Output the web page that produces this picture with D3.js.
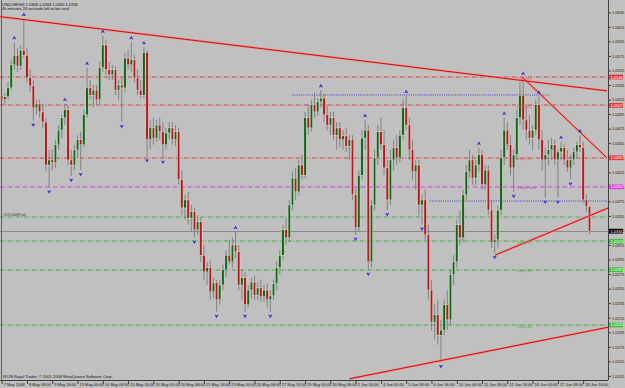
<!DOCTYPE html>
<html>
<head>
<meta charset="utf-8">
<script src="https://cdn.jsdelivr.net/npm/d3@7"></script>
<style>
  html, body { margin: 0; padding: 0; background: #c0c0c0; }
  svg { display: block; font-family: "Liberation Sans", "DejaVu Sans", sans-serif; }
</style>
</head>
<body>
<svg id="chart" width="625" height="388"></svg>
<script>
// USDCHF H4, 7 May 2008 00:00 .. 19 Jun 2008 00:00
const tickLabels = ["7 May 2008", "8 May 08:00", "9 May 16:00", "13 May 00:00", "14 May 08:00", "15 May 16:00",
    "19 May 00:00", "20 May 08:00", "21 May 16:00", "23 May 00:00", "26 May 08:00", "27 May 16:00",
    "29 May 00:00", "30 May 08:00", "2 Jun 16:00", "4 Jun 00:00", "5 Jun 08:00", "6 Jun 16:00",
    "10 Jun 00:00", "11 Jun 08:00", "12 Jun 16:00", "16 Jun 00:00", "17 Jun 08:00", "18 Jun 16:00"];

const priceTicks = [1.0635, 1.0615, 1.0595, 1.0575, 1.0555, 1.0535, 1.0515, 1.0495, 1.0475, 1.0455,
    1.0435, 1.0415, 1.0395, 1.0375, 1.0355, 1.0335, 1.0315, 1.0295, 1.0275, 1.0255,
    1.0235, 1.0215, 1.0195, 1.0175, 1.0155, 1.0135];

// open, high, low, close
const candles = [
    [1.0521,1.0531,1.0508,1.0515],[1.0515,1.0524,1.0508,1.0519],[1.0519,1.0539,1.0515,1.0531],[1.0531,1.0570,1.0528,1.0563],
    [1.0563,1.0594,1.0556,1.0576],[1.0576,1.0586,1.0553,1.0561],[1.0561,1.0590,1.0556,1.0583],[1.0583,1.0626,1.0572,1.0576],
    [1.0576,1.0586,1.0539,1.0545],[1.0545,1.0556,1.0525,1.0534],[1.0534,1.0542,1.0486,1.0504],[1.0504,1.0515,1.0494,1.0509],
    [1.0509,1.0515,1.0490,1.0498],[1.0498,1.0508,1.0476,1.0484],[1.0484,1.0490,1.0416,1.0425],[1.0425,1.0446,1.0394,1.0432],
    [1.0432,1.0446,1.0418,1.0428],[1.0428,1.0460,1.0421,1.0453],[1.0453,1.0480,1.0446,1.0473],[1.0473,1.0494,1.0462,1.0490],
    [1.0490,1.0509,1.0480,1.0501],[1.0501,1.0506,1.0425,1.0432],[1.0432,1.0446,1.0410,1.0425],[1.0425,1.0453,1.0418,1.0446],
    [1.0446,1.0466,1.0435,1.0460],[1.0460,1.0471,1.0418,1.0453],[1.0453,1.0501,1.0449,1.0494],[1.0494,1.0559,1.0490,1.0531],
    [1.0531,1.0542,1.0515,1.0521],[1.0521,1.0535,1.0504,1.0528],[1.0528,1.0535,1.0508,1.0515],[1.0515,1.0567,1.0508,1.0559],
    [1.0559,1.0603,1.0553,1.0590],[1.0590,1.0597,1.0549,1.0556],[1.0556,1.0567,1.0542,1.0549],[1.0549,1.0563,1.0542,1.0556],
    [1.0556,1.0561,1.0521,1.0528],[1.0528,1.0542,1.0515,1.0535],[1.0535,1.0545,1.0484,1.0531],[1.0531,1.0580,1.0525,1.0572],
    [1.0572,1.0583,1.0556,1.0563],[1.0563,1.0594,1.0553,1.0570],[1.0570,1.0576,1.0539,1.0545],[1.0545,1.0556,1.0521,1.0528],
    [1.0528,1.0542,1.0517,1.0521],[1.0521,1.0587,1.0517,1.0580],[1.0580,1.0583,1.0437,1.0460],[1.0460,1.0487,1.0446,1.0476],
    [1.0476,1.0490,1.0453,1.0462],[1.0462,1.0487,1.0457,1.0480],[1.0480,1.0490,1.0460,1.0471],[1.0471,1.0484,1.0435,1.0453],
    [1.0453,1.0476,1.0446,1.0469],[1.0469,1.0484,1.0460,1.0476],[1.0476,1.0484,1.0453,1.0460],[1.0460,1.0480,1.0451,1.0471],
    [1.0471,1.0476,1.0398,1.0405],[1.0405,1.0418,1.0356,1.0366],[1.0366,1.0384,1.0350,1.0377],[1.0377,1.0388,1.0343,1.0352],
    [1.0352,1.0370,1.0333,1.0361],[1.0361,1.0366,1.0325,1.0336],[1.0336,1.0356,1.0329,1.0347],[1.0347,1.0352,1.0292,1.0301],
    [1.0301,1.0315,1.0267,1.0278],[1.0278,1.0292,1.0260,1.0284],[1.0284,1.0295,1.0240,1.0251],[1.0251,1.0270,1.0242,1.0263],
    [1.0263,1.0267,1.0223,1.0240],[1.0240,1.0267,1.0233,1.0260],[1.0260,1.0288,1.0253,1.0281],[1.0281,1.0308,1.0270,1.0301],
    [1.0301,1.0322,1.0288,1.0292],[1.0292,1.0325,1.0284,1.0315],[1.0315,1.0333,1.0297,1.0306],[1.0306,1.0315,1.0253,1.0260],
    [1.0260,1.0281,1.0240,1.0270],[1.0270,1.0278,1.0223,1.0233],[1.0233,1.0260,1.0229,1.0253],[1.0253,1.0270,1.0242,1.0264],
    [1.0264,1.0273,1.0240,1.0246],[1.0246,1.0264,1.0240,1.0256],[1.0256,1.0267,1.0237,1.0244],[1.0244,1.0260,1.0237,1.0253],
    [1.0253,1.0262,1.0229,1.0240],[1.0240,1.0253,1.0223,1.0245],[1.0245,1.0267,1.0240,1.0262],[1.0262,1.0292,1.0253,1.0284],
    [1.0284,1.0308,1.0274,1.0301],[1.0301,1.0343,1.0295,1.0336],[1.0336,1.0352,1.0315,1.0325],[1.0325,1.0377,1.0319,1.0370],
    [1.0370,1.0416,1.0363,1.0407],[1.0407,1.0421,1.0377,1.0388],[1.0388,1.0432,1.0383,1.0425],[1.0425,1.0439,1.0405,1.0411],
    [1.0411,1.0498,1.0407,1.0490],[1.0490,1.0508,1.0466,1.0476],[1.0476,1.0515,1.0471,1.0508],[1.0508,1.0525,1.0490,1.0498],
    [1.0498,1.0517,1.0493,1.0512],[1.0512,1.0528,1.0504,1.0517],[1.0517,1.0523,1.0484,1.0494],[1.0494,1.0508,1.0473,1.0480],
    [1.0480,1.0498,1.0466,1.0490],[1.0490,1.0498,1.0460,1.0466],[1.0466,1.0484,1.0446,1.0476],[1.0476,1.0484,1.0449,1.0460],
    [1.0460,1.0473,1.0446,1.0465],[1.0465,1.0476,1.0443,1.0451],[1.0451,1.0466,1.0432,1.0460],[1.0460,1.0466,1.0377,1.0384],
    [1.0384,1.0394,1.0329,1.0339],[1.0339,1.0418,1.0333,1.0411],[1.0411,1.0473,1.0405,1.0462],[1.0462,1.0487,1.0446,1.0473],
    [1.0473,1.0480,1.0281,1.0292],[1.0292,1.0377,1.0284,1.0370],[1.0370,1.0446,1.0363,1.0435],[1.0435,1.0480,1.0425,1.0471],
    [1.0471,1.0490,1.0446,1.0453],[1.0453,1.0473,1.0411,1.0421],[1.0421,1.0432,1.0363,1.0377],[1.0377,1.0446,1.0370,1.0432],
    [1.0432,1.0460,1.0418,1.0449],[1.0449,1.0466,1.0425,1.0435],[1.0435,1.0473,1.0429,1.0466],[1.0466,1.0515,1.0460,1.0504],
    [1.0504,1.0520,1.0473,1.0480],[1.0480,1.0490,1.0432,1.0446],[1.0446,1.0460,1.0405,1.0416],[1.0416,1.0432,1.0391,1.0425],
    [1.0425,1.0432,1.0356,1.0370],[1.0370,1.0384,1.0343,1.0377],[1.0377,1.0391,1.0322,1.0329],[1.0329,1.0343,1.0240,1.0253],
    [1.0253,1.0267,1.0198,1.0209],[1.0209,1.0233,1.0185,1.0219],[1.0219,1.0240,1.0178,1.0191],[1.0191,1.0212,1.0154,1.0198],
    [1.0198,1.0240,1.0191,1.0233],[1.0233,1.0253,1.0198,1.0212],[1.0212,1.0281,1.0205,1.0274],[1.0274,1.0301,1.0260,1.0292],
    [1.0292,1.0350,1.0284,1.0343],[1.0343,1.0363,1.0315,1.0325],[1.0325,1.0391,1.0319,1.0384],[1.0384,1.0425,1.0377,1.0416],
    [1.0416,1.0446,1.0407,1.0432],[1.0432,1.0439,1.0398,1.0407],[1.0407,1.0432,1.0398,1.0425],[1.0425,1.0449,1.0416,1.0439],
    [1.0439,1.0446,1.0391,1.0398],[1.0398,1.0425,1.0391,1.0418],[1.0418,1.0425,1.0356,1.0363],[1.0363,1.0377,1.0311,1.0318],
    [1.0318,1.0329,1.0304,1.0322],[1.0322,1.0370,1.0311,1.0363],[1.0363,1.0446,1.0356,1.0435],[1.0435,1.0490,1.0425,1.0473],
    [1.0473,1.0484,1.0446,1.0453],[1.0453,1.0466,1.0411,1.0421],[1.0421,1.0446,1.0388,1.0439],[1.0439,1.0501,1.0432,1.0490],
    [1.0490,1.0539,1.0480,1.0521],[1.0521,1.0545,1.0473,1.0487],[1.0487,1.0508,1.0460,1.0473],[1.0473,1.0494,1.0453,1.0462],
    [1.0462,1.0480,1.0446,1.0473],[1.0473,1.0515,1.0466,1.0508],[1.0508,1.0519,1.0446,1.0460],[1.0460,1.0473,1.0418,1.0432],
    [1.0432,1.0449,1.0380,1.0439],[1.0439,1.0460,1.0425,1.0446],[1.0446,1.0462,1.0432,1.0453],[1.0453,1.0460,1.0425,1.0432],
    [1.0432,1.0446,1.0380,1.0443],[1.0443,1.0457,1.0432,1.0449],[1.0449,1.0453,1.0425,1.0432],[1.0432,1.0446,1.0416,1.0421],
    [1.0421,1.0439,1.0405,1.0432],[1.0432,1.0449,1.0425,1.0443],[1.0443,1.0457,1.0435,1.0453],[1.0453,1.0466,1.0443,1.0449],
    [1.0449,1.0457,1.0373,1.0377],[1.0377,1.0384,1.0361,1.0368],[1.0368,1.0368,1.0330,1.0334]
];

// bars carrying a fractal arrow
const fractalUp = [4, 7, 20, 27, 32, 41, 45, 74, 101, 115, 128, 151, 159, 165, 170, 177, 183];
const fractalDown = [10, 15, 22, 25, 38, 46, 51, 61, 68, 77, 85, 112, 116, 122, 133, 139, 156, 162, 172, 176, 180];

// daily pivot levels
const levelNames = ["Daily R3", "Daily R2", "Daily R1", "Daily Pivot", "Daily S1", "Daily S2", "Daily S3"];
const levelValues = [1.0546, 1.0507, 1.0435, 1.0395, 1.0320, 1.0281, 1.0205];
const levelColors = ["#e03a3a", "#e03a3a", "#e03a3a", "#e040e0", "#3cc23c", "#3cc23c", "#3cc23c"];

// trend lines: [bar1, price1, bar2, price2]
const trendLines = [
    [-0.5, 1.0629, 191.5, 1.0527],
    [164.7, 1.0546, 191.5, 1.0435],
    [110, 1.0131, 192, 1.0202],
    [156.1, 1.0301, 192.5, 1.0367]
];

// dotted lines: [fromBar, toBar, price]
const dottedLines = [[91.9, 173.5, 1.0521], [135.5, 192, 1.0376]];

const lastPrice = 1.0334;
const extraLevel = 1.0354;

const svg = d3.select("#chart");
const plotRight = 608, plotBottom = 380;

const x = d3.scaleLinear().domain([0, 186]).range([1.7, 589.5]);
const y = d3.scaleLinear().domain([1.0135, 1.0635]).range([375.9, 12.3]);

svg.append("rect").attr("width", 625).attr("height", 388).attr("fill", "#c0c0c0");

svg.append("defs").append("clipPath").attr("id", "plotClip")
  .append("rect").attr("x", 0).attr("y", 0).attr("width", plotRight).attr("height", plotBottom);

const plot = svg.append("g").attr("clip-path", "url(#plotClip)");

// horizontal levels, drawn soft over two rows
plot.selectAll("line.level")
  .data(levelValues)
  .enter().append("line")
    .attr("class", "level")
    .attr("x1", 0).attr("x2", plotRight)
    .attr("y1", d => Math.round(y(d))).attr("y2", d => Math.round(y(d)))
    .attr("stroke", (d, i) => i == 3 ? "#e040e0" : i < 3 ? "#e03c3c" : "#3cb43c")
    .attr("stroke-width", 1.2)
    .attr("stroke-dasharray", (d, i) => i == 3 ? "5,2.5" : "4,1.5,1,1.5");

plot.append("line")
    .attr("x1", 0).attr("x2", plotRight)
    .attr("y1", Math.round(y(extraLevel))).attr("y2", Math.round(y(extraLevel)))
    .attr("stroke", "#3cb43c").attr("stroke-width", 1.2).attr("stroke-dasharray", "4,1.5,1,1.5");

plot.append("line")
    .attr("x1", 0).attr("x2", plotRight)
    .attr("y1", Math.round(y(lastPrice)) + 0.5).attr("y2", Math.round(y(lastPrice)) + 0.5)
    .attr("stroke", "#8a8a8a").attr("stroke-width", 1);

plot.selectAll("line.dotted")
  .data(dottedLines)
  .enter().append("line")
    .attr("class", "dotted")
    .attr("x1", d => x(d[0])).attr("x2", d => x(d[1]))
    .attr("y1", d => Math.round(y(d[2]))).attr("y2", d => Math.round(y(d[2])))
    .attr("stroke", "#4040d0").attr("stroke-width", 1.1).attr("stroke-dasharray", "1,1.2");

// candles
const bar = plot.selectAll("g.candle")
  .data(candles)
  .enter().append("g")
    .attr("class", "candle")
    .attr("transform", (d, i) => "translate(" + x(i) + ",0)");

bar.append("line")
    .attr("y1", d => y(d[1])).attr("y2", d => y(d[2]))
    .attr("stroke", "#7c7c7c").attr("stroke-width", 0.9);

bar.append("rect")
    .attr("x", -1.2).attr("width", 2.4)
    .attr("y", d => y(Math.max(d[0], d[3])))
    .attr("height", d => Math.max(0.8, Math.abs(y(d[0]) - y(d[3]))))
    .attr("fill", d => d[3] >= d[0] ? "#136613" : "#b41a1a")
    .attr("stroke", "#ececec").attr("stroke-width", 0.4);

// trend lines
plot.selectAll("line.trend")
  .data(trendLines)
  .enter().append("line")
    .attr("class", "trend")
    .attr("x1", d => x(d[0])).attr("y1", d => y(d[1]))
    .attr("x2", d => x(d[2])).attr("y2", d => y(d[3]))
    .attr("stroke", "#f08a8a").attr("stroke-width", 2.2);
plot.selectAll("line.trendcore")
  .data(trendLines)
  .enter().append("line")
    .attr("class", "trendcore")
    .attr("x1", d => x(d[0])).attr("y1", d => y(d[1]))
    .attr("x2", d => x(d[2])).attr("y2", d => y(d[3]))
    .attr("stroke", "#d01010").attr("stroke-width", 1);

// fractal arrows
const arrowColor = "#3434d8";
plot.selectAll("path.up")
  .data(fractalUp)
  .enter().append("path")
    .attr("class", "up")
    .attr("transform", i => "translate(" + x(i) + "," + (y(candles[i][1]) - 4.5) + ")")
    .attr("d", "M-2,1.6 L0,-1.8 L2,1.6 L0.6,1.6 L0,0.6 L-0.6,1.6 Z")
    .attr("fill", arrowColor);
plot.selectAll("path.down")
  .data(fractalDown)
  .enter().append("path")
    .attr("class", "down")
    .attr("transform", i => "translate(" + x(i) + "," + (y(candles[i][2]) + 4.5) + ")")
    .attr("d", "M-2,-1.6 L0,1.8 L2,-1.6 L0.6,-1.6 L0,-0.6 L-0.6,-1.6 Z")
    .attr("fill", arrowColor);

// level names
plot.selectAll("text.levelName")
  .data(levelValues)
  .enter().append("text")
    .attr("class", "levelName")
    .attr("x", 517).attr("y", d => y(d) + 2.6)
    .attr("font-size", 4)
    .attr("fill", (d, i) => i == 3 ? "#d040d0" : i < 3 ? "#e06060" : "#48b048")
    .text((d, i) => levelNames[i]);

plot.append("text")
    .attr("x", 3).attr("y", y(extraLevel) - 0.5)
    .attr("font-size", 4).attr("fill", "#303030")
    .text("#57c1039 pit");

// axes
const yAxis = d3.axisRight(y).tickValues(priceTicks).tickFormat(d3.format(".4f")).tickSize(2.5);
const yg = svg.append("g").attr("transform", "translate(" + (plotRight + 0.5) + ",0)").call(yAxis);
yg.select(".domain").attr("stroke", "#404040").attr("d", "M0,0V" + plotBottom);
yg.selectAll(".tick line").attr("stroke", "#404040");
yg.selectAll(".tick text").attr("x", 3.5).attr("font-size", 4).attr("fill", "#101010").attr("font-family", null);

const xAxis = d3.axisBottom(x).tickValues(d3.range(tickLabels.length).map(k => k * 8))
    .tickFormat((d, k) => tickLabels[k]).tickSize(3.5);
const xg = svg.append("g").attr("transform", "translate(0," + (plotBottom + 0.5) + ")").call(xAxis);
xg.select(".domain").attr("stroke", "#404040").attr("d", "M0,0H" + plotRight);
xg.selectAll(".tick line").attr("stroke", "#404040");
xg.selectAll(".tick text").attr("text-anchor", "start").attr("x", 1.5).attr("y", 2.2)
    .attr("font-size", 4).attr("fill", "#101010").attr("font-family", null);

svg.append("line").attr("x1", 1.5).attr("x2", 1.5).attr("y1", 0).attr("y2", plotBottom)
    .attr("stroke", "#606060").attr("stroke-width", 1);

// price boxes on the right scale
const boxes = levelValues.map((v, i) => ({v: v, c: levelColors[i], t: "#fff"}))
    .concat([{v: lastPrice, c: "#000", t: "#fff"}]);
const box = svg.selectAll("g.box").data(boxes).enter().append("g")
    .attr("transform", d => "translate(" + (plotRight + 1) + "," + y(d.v) + ")");
box.append("rect").attr("x", 0).attr("y", -2.4).attr("width", 14).attr("height", 4.8).attr("fill", d => d.c);
box.append("text").attr("x", 1.5).attr("y", 1.5).attr("font-size", 4).attr("fill", d => d.t)
    .text(d => d3.format(".4f")(d.v));

// header and footer text
svg.append("text").attr("x", 2).attr("y", 5.5).attr("font-size", 4).attr("fill", "#101010")
    .text("USDCHF,H4  1.0368 1.0368 1.0330 1.0334");
svg.append("text").attr("x", 2).attr("y", 10).attr("font-size", 4).attr("fill", "#101010")
    .text("4h minutes 24 seconds left to bar end");
svg.append("text").attr("x", 3).attr("y", 378).attr("font-size", 4).attr("fill", "#101010")
    .text("IXON Royal Trader, © 2001-2008 MetaQuotes Software Corp.");
</script>
</body>
</html>
